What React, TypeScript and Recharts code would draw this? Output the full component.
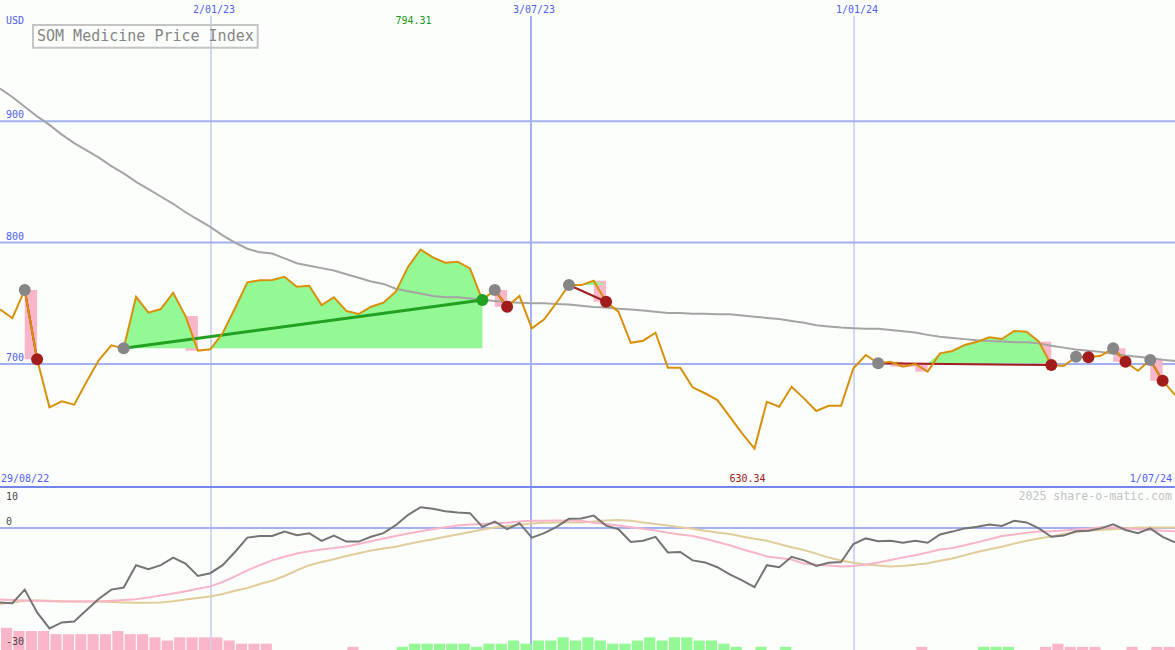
import React from 'react';
import {
  ComposedChart,
  Line,
  Area,
  Bar,
  Cell,
  XAxis,
  YAxis,
  CartesianGrid,
  ReferenceDot,
} from 'recharts';

// Weekly closes of the index, 29/08/22 .. 1/07/24
const PRICE = [
  745.1, 737.7, 761.0, 703.9, 664.3, 669.3, 666.5, 685.4, 703.3, 715.4,
  712.9, 755.4, 742.3, 745.3, 758.7, 739.5, 711.0, 712.1, 725.3, 745.9,
  767.3, 769.0, 769.2, 771.9, 763.7, 764.5, 748.6, 755.0, 743.7, 741.2,
  747.2, 750.5, 759.6, 780.2, 794.31, 787.9, 783.5, 784.3, 778.8, 752.7,
  761.0, 747.2, 756.0, 729.4, 736.8, 750.5, 765.1, 765.0, 768.6, 751.3,
  743.1, 717.5, 719.2, 725.8, 697.0, 697.0, 680.8, 675.9, 670.3, 656.6,
  642.9, 630.34, 668.9, 664.8, 681.3, 671.7, 661.3, 665.6, 665.6, 696.5,
  707.4, 700.6, 701.9, 697.8, 700.0, 693.7, 708.8, 710.7, 715.7, 718.4,
  722.0, 720.6, 727.2, 726.6, 718.4, 699.2, 698.4, 706.0, 705.5, 706.8,
  712.9, 701.9, 694.5, 703.3, 686.2, 674.5,
];

// long moving average (grey)
const MOVING_AVG = [
  927, 920, 912, 904, 897, 889, 882, 876, 870, 863,
  857, 850, 844, 838, 832, 825, 819, 813, 806, 800,
  795, 792, 791, 787, 783, 781, 779, 777, 774, 771,
  768, 766, 762, 760, 758, 756, 755, 755, 754, 753,
  752, 751, 750.5, 750, 750, 749.5, 749, 748, 747, 746.5,
  745.5, 745, 744, 743, 742, 742, 741.5, 741.5, 741, 741,
  740, 739, 738, 737, 735.5, 734, 732, 731, 730, 729.5,
  729, 729, 728, 727, 726, 724, 722.5, 721.5, 720.5, 719.5,
  719, 718.5, 718, 718, 717, 715, 713.5, 712, 711, 710,
  708.5, 707, 706, 705, 703.5, 702.5,
];

// lower panel: momentum (dark grey), fast signal (pink), slow signal (tan)
const MOMENTUM = [
  -18.6, -18.8, -15.4, -21.1, -25.1, -23.6, -23.4, -20.5, -17.7, -15.4,
  -14.9, -9.3, -10.3, -9.3, -7.4, -8.9, -12.0, -11.3, -9.3, -6.0,
  -2.4, -2.0, -2.0, -0.9, -1.8, -1.3, -3.2, -1.9, -3.4, -3.4,
  -2.2, -1.3, 0.7, 3.3, 5.2, 4.8, 4.2, 3.9, 3.7, 0.3,
  1.6, -0.3, 1.2, -2.4, -1.3, 0.3, 2.3, 2.4, 3.1, 0.6,
  -0.3, -3.5, -3.2, -2.2, -6.1, -6.0, -8.1, -8.6, -9.8, -11.6,
  -13.1, -14.8, -9.3, -9.8, -7.2, -8.1, -9.5, -8.7, -8.5, -4.0,
  -2.6, -3.3, -3.2, -3.7, -3.2, -3.7, -1.6, -0.9, -0.1, 0.3,
  0.9, 0.5, 1.8, 1.4, -0.1, -2.2, -1.9, -0.8, -0.7, -0.1,
  0.9, -0.5, -1.3, -0.1, -2.2, -3.6,
];

const SIGNAL_FAST = [
  -17.9, -18.0, -18.1, -18.2, -18.3, -18.4, -18.4, -18.4, -18.4, -18.2,
  -18.0, -17.8, -17.4, -16.9, -16.4, -15.8, -15.2, -14.6, -13.5, -12.1,
  -10.6, -9.3, -8.1, -7.2, -6.4, -5.8, -5.4, -5.0, -4.6, -4.0,
  -3.3, -2.6, -2.0, -1.4, -0.8, -0.3, 0.2, 0.6, 0.9, 1.0,
  1.2, 1.3, 1.6, 1.8, 1.8, 1.9, 1.9, 1.8, 1.3, 1.0,
  0.6, 0.2, -0.2, -0.6, -1.2, -1.6, -2.0, -2.7, -3.5, -4.3,
  -5.3, -6.2, -7.1, -7.5, -7.9, -8.9, -9.2, -9.4, -9.6, -9.5,
  -9.1, -8.6, -8.0, -7.4, -6.8, -6.1, -5.4, -5.0, -4.3, -3.6,
  -2.8, -2.0, -1.6, -1.2, -0.9, -0.8, -0.6, -0.4, -0.2, 0.2,
  0.1, -0.1, -0.3, -0.5, -0.7, -0.8,
];

const SIGNAL_SLOW = [
  -19.0, -18.6, -18.2, -18.1, -18.2, -18.3, -18.4, -18.4, -18.4, -18.5,
  -18.6, -18.7, -18.7, -18.6, -18.3, -17.9, -17.5, -17.1, -16.5, -15.7,
  -15.0, -14.0, -13.2, -12.0, -10.6, -9.3, -8.5, -7.8, -7.0, -6.3,
  -5.6, -5.1, -4.7, -4.0, -3.4, -2.8, -2.2, -1.6, -1.0, -0.4,
  0.1, 0.5, 0.8, 1.1, 1.3, 1.4, 1.4, 1.4, 1.6, 1.9,
  2.0, 1.8, 1.4, 1.0, 0.6, 0.2, -0.2, -0.7, -1.1, -1.5,
  -2.1, -2.7, -3.2, -4.0, -4.8, -5.5, -6.4, -7.4, -8.1, -8.7,
  -9.1, -9.4, -9.6, -9.5, -9.2, -8.8, -8.2, -7.6, -6.8, -6.0,
  -5.3, -4.7, -3.9, -3.2, -2.6, -2.1, -1.5, -1.0, -0.7, -0.5,
  -0.3, -0.1, 0.1, 0.1, 0.1, 0.1,
];

// histogram along the bottom edge, negative = pink, positive = green
const HISTOGRAM = [
  -7, -6, -6, -6, -5, -5, -5, -5, -5, -6,
  -5, -5, -4, -3, -4, -4, -4, -4, -3, -2,
  -2, -2, 0, 0, 0, 0, 0, 0, -1, 0,
  0, 0, 1, 2, 2, 2, 2, 2, 1, 2,
  2, 3, 2, 3, 3, 4, 3, 4, 3, 2,
  2, 3, 4, 3, 4, 4, 3, 3, 2, 1,
  0, 1, 0, 1, 0, 0, 0, 0, 0, 0,
  0, 0, 0, 0, -1, 0, 0, 0, 0, 1,
  1, 1, 0, 0, -1, -2, -1, -1, -1, 0,
  0, -1, 0, -1, -1, 0,
];

// simulated trades: [entry week, exit week]
const TRADES: [number, number][] = [
  [2, 3], [10, 39], [40, 41], [46, 49], [71, 85], [87, 88], [90, 91], [93, 94],
];

const DATE_TICKS = [
  { label: '2/01/23', pos: 17.06, bold: false },
  { label: '3/07/23', pos: 42.93, bold: true },
  { label: '1/01/24', pos: 69.05, bold: false },
];
const PRICE_TICKS = [700, 800, 900];
const OSC_TICKS = [10, 0, -30];

const W = 1175;
const MAIN_H = 486;
const OSC_H = 162;
const LAST = PRICE.length - 1;
const MONO = '"DejaVu Sans Mono", monospace';

const BG = '#fcfefc';
const GRID = '#a3b1f0';
const SEPARATOR = '#7585ec';
const LABEL_BLUE = '#4f60f0';
const ORANGE = '#d8900a';
const MA_GREY = '#a4a4a4';
const GAIN = '#94f894';
const LOSS = '#fab6c9';
const WIN_LINE = '#22a022';
const LOSE_LINE = '#a21c1c';
const ENTRY_GREY = '#868686';

const rows = PRICE.map((price, i) => ({
  i,
  ib: i + 0.5,
  price,
  ma: MOVING_AVG[i],
  mom: MOMENTUM[i],
  fast: SIGNAL_FAST[i],
  slow: SIGNAL_SLOW[i],
  hist: Math.abs(HISTOGRAM[i]),
}));

const trades = TRADES.map(([entry, exit]) => {
  const ep = PRICE[entry];
  const xp = PRICE[exit];
  return { entry, exit, ep, xp, win: xp > ep };
});

// weeks that close below the entry level get a pink block
const drops = trades.flatMap((t) => {
  const out: { i0: number; i1: number; lo: number; hi: number }[] = [];
  for (let i = t.entry; i < t.exit; i++) {
    if (PRICE[i + 1] < t.ep) {
      out.push({
        i0: i,
        i1: i + 1,
        lo: Math.min(PRICE[i], PRICE[i + 1]),
        hi: Math.max(PRICE[i], PRICE[i + 1]),
      });
    }
  }
  return out;
});

const maxIdx = PRICE.indexOf(Math.max(...PRICE));
const minIdx = PRICE.indexOf(Math.min(...PRICE));

const thinDates = DATE_TICKS.filter((d) => !d.bold).map((d) => d.pos);
const boldDates = DATE_TICKS.filter((d) => d.bold).map((d) => d.pos);

function DateTick({ x, payload }: any) {
  const d = DATE_TICKS.find((t) => t.pos === payload.value);
  return (
    <text x={x + 3} y={13} textAnchor="middle" fill={LABEL_BLUE} fontSize={10} fontFamily={MONO}>
      {d ? d.label : ''}
    </text>
  );
}

function PriceTick({ y, payload }: any) {
  return (
    <text x={6} y={y - 3} fill={LABEL_BLUE} fontSize={10} fontFamily={MONO}>
      {payload.value}
    </text>
  );
}

function OscTick({ y, payload }: any) {
  return (
    <text x={6} y={Math.max(y - 3, 12)} fill="#4a4a4a" fontSize={10} fontFamily={MONO}>
      {payload.value}
    </text>
  );
}

const extremeLabel = (text: string, color: string, y: number) => (props: any) => (
  <text
    x={props.viewBox.x - 7}
    y={y}
    textAnchor="middle"
    fill={color}
    fontSize={10}
    fontFamily={MONO}
  >
    {text}
  </text>
);

const isEntry = (i: number) => trades.some((t) => t.entry === i);
const exitOf = (i: number) => trades.find((t) => t.exit === i);

export default function App() {
  return (
    <div style={{ position: 'relative', width: W, height: MAIN_H + 2 + OSC_H, background: BG, overflow: 'hidden' }}>
      <style>{'body{margin:0}'}</style>

      <ComposedChart width={W} height={MAIN_H} data={rows} margin={{ top: 16, right: 0, bottom: 0, left: 0 }}>
        <CartesianGrid vertical={false} horizontalValues={PRICE_TICKS} stroke={GRID} strokeWidth={2} />
        <CartesianGrid horizontal={false} verticalValues={thinDates} stroke={GRID} strokeWidth={1} />
        <CartesianGrid horizontal={false} verticalValues={boldDates} stroke={GRID} strokeWidth={2} />
        <XAxis
          type="number"
          dataKey="i"
          domain={[0, LAST]}
          orientation="top"
          mirror
          height={20}
          ticks={DATE_TICKS.map((d) => d.pos)}
          interval={0}
          axisLine={false}
          tickLine={false}
          tick={<DateTick />}
          allowDataOverflow
        />
        <YAxis
          type="number"
          domain={[599.5, 986.7]}
          ticks={PRICE_TICKS}
          interval={0}
          mirror
          width={40}
          axisLine={false}
          tickLine={false}
          tick={<PriceTick />}
          allowDataOverflow
        />

        {drops.map((d, k) => (
          <Area
            key={`drop${k}`}
            type="linear"
            dataKey={(r: any) => (r.i === d.i0 || r.i === d.i1 ? [d.lo, d.hi] : null)}
            stroke="none"
            fill={LOSS}
            fillOpacity={1}
            dot={false}
            activeDot={false}
            isAnimationActive={false}
          />
        ))}
        {trades.map((t, k) => (
          <Area
            key={`gain${k}`}
            type="linear"
            dataKey={(r: any) =>
              r.i >= t.entry && r.i <= t.exit ? [t.ep, Math.max(r.price, t.ep)] : null
            }
            stroke="none"
            fill={GAIN}
            fillOpacity={1}
            dot={false}
            activeDot={false}
            isAnimationActive={false}
          />
        ))}

        <Line dataKey="ma" stroke={MA_GREY} strokeWidth={2} dot={false} activeDot={false} isAnimationActive={false} />

        {trades.map((t, k) => (
          <Line
            key={`trade${k}`}
            dataKey={(r: any) => (r.i === t.entry ? t.ep : r.i === t.exit ? t.xp : null)}
            connectNulls
            stroke={t.win ? WIN_LINE : LOSE_LINE}
            strokeWidth={t.win ? 3 : 2}
            dot={false}
            activeDot={false}
            isAnimationActive={false}
          />
        ))}

        <Line
          dataKey={(r: any) => (isEntry(r.i) ? r.price : null)}
          stroke="none"
          dot={{ r: 6, fill: ENTRY_GREY, stroke: 'none', strokeWidth: 0 }}
          activeDot={false}
          isAnimationActive={false}
        />
        <Line
          dataKey={(r: any) => {
            const t = exitOf(r.i);
            return t && !t.win ? r.price : null;
          }}
          stroke="none"
          dot={{ r: 6, fill: LOSE_LINE, stroke: 'none', strokeWidth: 0 }}
          activeDot={false}
          isAnimationActive={false}
        />
        <Line
          dataKey={(r: any) => {
            const t = exitOf(r.i);
            return t && t.win ? r.price : null;
          }}
          stroke="none"
          dot={{ r: 6, fill: WIN_LINE, stroke: 'none', strokeWidth: 0 }}
          activeDot={false}
          isAnimationActive={false}
        />

        <Line dataKey="price" stroke={ORANGE} strokeWidth={2} dot={false} activeDot={false} isAnimationActive={false} />

        <ReferenceDot
          x={maxIdx}
          y={PRICE[maxIdx]}
          r={0}
          fill="none"
          stroke="none"
          label={extremeLabel(PRICE[maxIdx].toFixed(2), '#1a961a', 24)}
        />
        <ReferenceDot
          x={minIdx}
          y={PRICE[minIdx]}
          r={0}
          fill="none"
          stroke="none"
          label={extremeLabel(PRICE[minIdx].toFixed(2), '#a01818', 482)}
        />
      </ComposedChart>

      <div style={{ height: 2, background: SEPARATOR }} />

      <ComposedChart width={W} height={OSC_H} data={rows} margin={{ top: 0, right: 0, bottom: 0, left: 0 }}>
        <CartesianGrid xAxisId="t" yAxisId="o" vertical={false} horizontalValues={[0]} stroke={GRID} strokeWidth={2} />
        <CartesianGrid xAxisId="t" yAxisId="o" horizontal={false} verticalValues={thinDates} stroke={GRID} strokeWidth={1} />
        <CartesianGrid xAxisId="t" yAxisId="o" horizontal={false} verticalValues={boldDates} stroke={GRID} strokeWidth={2} />
        <XAxis xAxisId="t" type="number" dataKey="i" domain={[0, LAST]} hide allowDataOverflow />
        <XAxis xAxisId="b" type="number" dataKey="ib" domain={[0, LAST]} hide allowDataOverflow />
        <YAxis
          yAxisId="o"
          type="number"
          domain={[-30.5, 10]}
          ticks={OSC_TICKS}
          interval={0}
          mirror
          width={40}
          axisLine={false}
          tickLine={false}
          tick={<OscTick />}
          allowDataOverflow
        />
        <YAxis yAxisId="h" type="number" domain={[0, 51.1]} hide allowDataOverflow />

        <Bar xAxisId="b" yAxisId="h" dataKey="hist" barSize={13} isAnimationActive={false}>
          {HISTOGRAM.map((v, k) => (
            <Cell key={k} fill={v < 0 ? LOSS : GAIN} />
          ))}
        </Bar>
        <Line xAxisId="t" yAxisId="o" dataKey="slow" stroke="#e2cc9c" strokeWidth={2} dot={false} activeDot={false} isAnimationActive={false} />
        <Line xAxisId="t" yAxisId="o" dataKey="fast" stroke="#f8b4c8" strokeWidth={2} dot={false} activeDot={false} isAnimationActive={false} />
        <Line xAxisId="t" yAxisId="o" dataKey="mom" stroke="#747474" strokeWidth={2} dot={false} activeDot={false} isAnimationActive={false} />
      </ComposedChart>

      <svg
        width={W}
        height={MAIN_H + 2 + OSC_H}
        style={{ position: 'absolute', left: 0, top: 0, pointerEvents: 'none' }}
        fontFamily={MONO}
      >
        <text x={6} y={24} fill={LABEL_BLUE} fontSize={10}>USD</text>
        <rect x={33} y={25} width={224.7} height={22.7} fill="none" stroke="#c4c4c4" strokeWidth={2} />
        <text x={37} y={41.3} fill="#858585" fontSize={15}>SOM Medicine Price Index</text>
        <text x={1} y={482} fill={LABEL_BLUE} fontSize={10}>29/08/22</text>
        <text x={1172} y={482} fill={LABEL_BLUE} fontSize={10} textAnchor="end">1/07/24</text>
        <text x={1172} y={500} fill="#c4c4c4" fontSize={11.6} textAnchor="end">2025 share-o-matic.com</text>
      </svg>
    </div>
  );
}
